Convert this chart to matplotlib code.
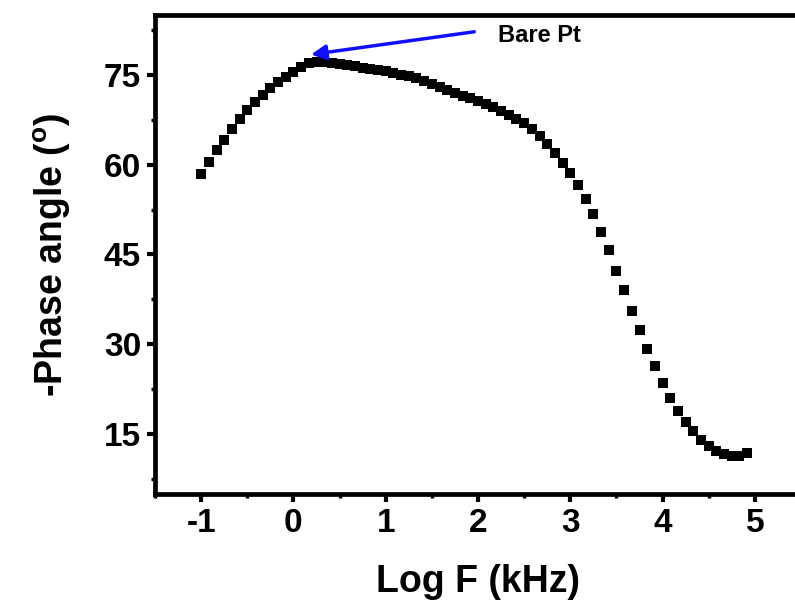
import matplotlib
matplotlib.use('agg')
import matplotlib.pyplot as plt
from matplotlib.ticker import MultipleLocator

plt.rcParams['font.family'] = ['Liberation Sans', 'DejaVu Sans']
plt.rcParams['font.weight'] = 'bold'
plt.rcParams['axes.unicode_minus'] = False
plt.rcParams['mathtext.fontset'] = 'custom'
plt.rcParams['mathtext.bf'] = 'Liberation Sans:bold'
plt.rcParams['mathtext.rm'] = 'Liberation Sans:bold'

# Log F (kHz) and -phase angle (deg)
log_f = [-1.0, -0.917, -0.833, -0.75, -0.667, -0.583, -0.5, -0.417, -0.333, -0.25,
         -0.167, -0.083, 0.0, 0.083, 0.167, 0.25, 0.333, 0.417, 0.5, 0.583,
         0.667, 0.75, 0.833, 0.917, 1.0, 1.083, 1.167, 1.25, 1.333, 1.417,
         1.5, 1.583, 1.667, 1.75, 1.833, 1.917, 2.0, 2.083, 2.167, 2.25,
         2.333, 2.417, 2.5, 2.583, 2.667, 2.75, 2.833, 2.917, 3.0, 3.083,
         3.167, 3.25, 3.333, 3.417, 3.5, 3.583, 3.667, 3.75, 3.833, 3.917,
         4.0, 4.083, 4.167, 4.25, 4.333, 4.417, 4.5, 4.583, 4.667, 4.75,
         4.833, 4.917]
phase = [58.4, 60.4, 62.4, 64.2, 66.0, 67.6, 69.1, 70.4, 71.7, 72.8,
         73.8, 74.7, 75.5, 76.3, 76.9, 77.1, 77.1, 77.0, 76.8, 76.6,
         76.4, 76.2, 76.0, 75.8, 75.6, 75.3, 75.0, 74.8, 74.4, 74.0,
         73.5, 73.0, 72.5, 72.0, 71.5, 71.1, 70.7, 70.2, 69.6, 69.0,
         68.3, 67.6, 66.9, 65.9, 64.8, 63.5, 61.9, 60.3, 58.6, 56.6,
         54.3, 51.7, 48.8, 45.8, 42.3, 39.0, 35.6, 32.4, 29.3, 26.3,
         23.5, 21.1, 18.9, 17.0, 15.5, 14.1, 13.0, 12.2, 11.6, 11.3,
         11.3, 11.8]

fig = plt.figure(figsize=(7.95, 6.07), dpi=100)
ax = fig.add_axes([155 / 795, 113 / 607, 646 / 795, 479 / 607])

ax.plot(log_f, phase, 's', color='black', markersize=7.2, markeredgewidth=0)

ax.set_xlim(-1.5, 5.5)
ax.set_ylim(5, 85)
ax.xaxis.set_major_locator(MultipleLocator(1))
ax.xaxis.set_minor_locator(MultipleLocator(0.5))
ax.yaxis.set_major_locator(MultipleLocator(15))
ax.yaxis.set_minor_locator(MultipleLocator(7.5))

for s in ax.spines.values():
    s.set_linewidth(3.4)
ax.tick_params(which='major', direction='out', length=6, width=3, labelsize=24, pad=4)
ax.tick_params(which='minor', direction='out', length=3, width=2.5)
ax.tick_params(top=False, right=False)

ax.set_xlabel('Log F (kHz)', fontsize=27, fontweight='bold', labelpad=18)
ax.set_ylabel(r'-Phase angle ($^{\mathbf{o}}$)', fontsize=27, fontweight='bold', labelpad=22)

# arrow pointing at the peak
ax.annotate('', xy=(0.19, 78.4), xytext=(1.96, 82.2),
            arrowprops=dict(arrowstyle='-|>', color='#1010ff', lw=2.5,
                            mutation_scale=22, shrinkA=0, shrinkB=0))
ax.text(2.22, 81.6, 'Bare Pt', fontsize=17, fontweight='bold', va='center')

fig.savefig('out.png', dpi=100)
